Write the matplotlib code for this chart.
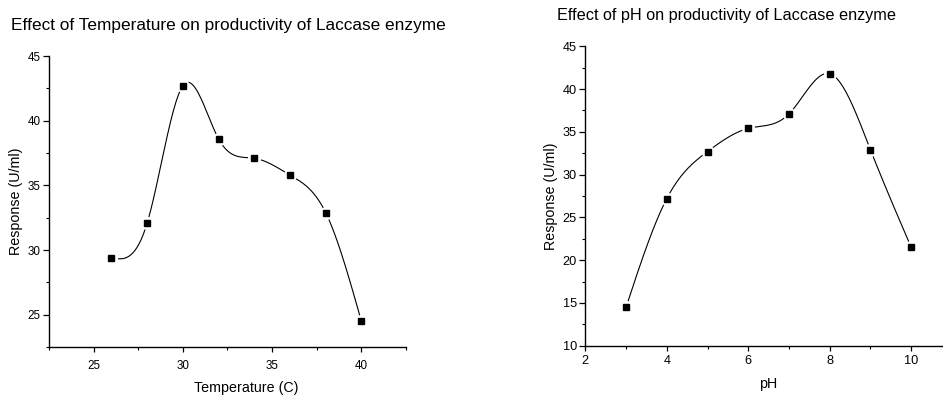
import numpy as np
import matplotlib
matplotlib.use("Agg")
import matplotlib.pyplot as plt
from matplotlib.ticker import MultipleLocator

plt.rcParams["font.family"] = ["Liberation Sans", "DejaVu Sans"]

# data
temp_x = [26, 28, 30, 32, 34, 36, 38, 40]
temp_y = [29.4, 32.1, 42.7, 38.6, 37.1, 35.8, 32.9, 24.5]

ph_x = [3, 4, 5, 6, 7, 8, 9, 10]
ph_y = [14.5, 27.2, 32.7, 35.4, 37.1, 41.8, 32.9, 21.5]


def natural_spline(x, y, n=300):
    """Natural cubic spline through (x, y), evaluated on n points."""
    x = np.asarray(x, float)
    y = np.asarray(y, float)
    k = len(x)
    h = np.diff(x)
    A = np.zeros((k, k))
    b = np.zeros(k)
    A[0, 0] = A[-1, -1] = 1.0
    for i in range(1, k - 1):
        A[i, i - 1] = h[i - 1]
        A[i, i] = 2 * (h[i - 1] + h[i])
        A[i, i + 1] = h[i]
        b[i] = 6 * ((y[i + 1] - y[i]) / h[i] - (y[i] - y[i - 1]) / h[i - 1])
    M = np.linalg.solve(A, b)
    xs = np.linspace(x[0], x[-1], n)
    idx = np.clip(np.searchsorted(x, xs) - 1, 0, k - 2)
    x0, x1 = x[idx], x[idx + 1]
    hh = x1 - x0
    t0 = x1 - xs
    t1 = xs - x0
    ys = (M[idx] * t0 ** 3 + M[idx + 1] * t1 ** 3) / (6 * hh) \
        + (y[idx] / hh - M[idx] * hh / 6) * t0 \
        + (y[idx + 1] / hh - M[idx + 1] * hh / 6) * t1
    return xs, ys


def draw_panel(ax, x, y, xlabel, title, title_size, title_xy,
               tick_size, xpad, xlabel_xy, ylabel_xy):
    xs, ys = natural_spline(x, y)
    ax.plot(xs, ys, color="black", lw=0.8, zorder=2)
    # white halo so the line stops short of each marker
    ax.plot(x, y, ls="none", marker="o", ms=9.5, mfc="white", mec="none", zorder=3)
    ax.plot(x, y, ls="none", marker="s", ms=4.8, mfc="black", mec="black", zorder=4)

    for s in ("top", "right"):
        ax.spines[s].set_visible(False)
    for s in ("left", "bottom"):
        ax.spines[s].set_linewidth(1.0)
    ax.tick_params(which="major", direction="out", length=4.5, width=0.9,
                   labelsize=tick_size)
    ax.tick_params(which="minor", direction="out", length=2.5, width=0.8)
    ax.tick_params(axis="y", which="major", pad=1.5)
    ax.tick_params(axis="x", which="major", length=3.5, pad=xpad)
    ax.set_xlabel(xlabel, fontsize=10.3)
    ax.set_ylabel("Response (U/ml)", fontsize=10.3)
    ax.xaxis.set_label_coords(*xlabel_xy)
    ax.yaxis.set_label_coords(*ylabel_xy)
    ax.figure.text(title_xy[0], title_xy[1], title, fontsize=title_size,
                   ha="center", va="center")


fig = plt.figure(figsize=(9.43, 3.95), dpi=100)

ax1 = fig.add_axes([0.052, 0.1215, 0.3785, 0.7365])
draw_panel(ax1, temp_x, temp_y, "Temperature (C)",
           "Effect of Temperature on productivity of Laccase enzyme",
           12.4, (0.242, 0.935), 8.4, 5.5, (0.552, -0.117), (-0.073, 0.5))
ax1.set_xlim(22.5, 42.5)
ax1.set_ylim(22.5, 45)
ax1.xaxis.set_major_locator(MultipleLocator(5))
ax1.xaxis.set_minor_locator(MultipleLocator(2.5))
ax1.yaxis.set_major_locator(MultipleLocator(5))
ax1.yaxis.set_minor_locator(MultipleLocator(2.5))

ax2 = fig.add_axes([0.6207, 0.1248, 0.3793, 0.758])
draw_panel(ax2, ph_x, ph_y, "pH",
           "Effect of pH on productivity of Laccase enzyme",
           11.7, (0.770, 0.962), 9.2, 3.2, (0.511, -0.1035), (-0.0755, 0.5))
ax2.set_xlim(2, 10.78)
ax2.set_ylim(10, 45)
ax2.xaxis.set_major_locator(MultipleLocator(2))
ax2.xaxis.set_minor_locator(MultipleLocator(1))
ax2.yaxis.set_major_locator(MultipleLocator(5))
ax2.yaxis.set_minor_locator(MultipleLocator(2.5))

fig.savefig("out.png", dpi=100)
